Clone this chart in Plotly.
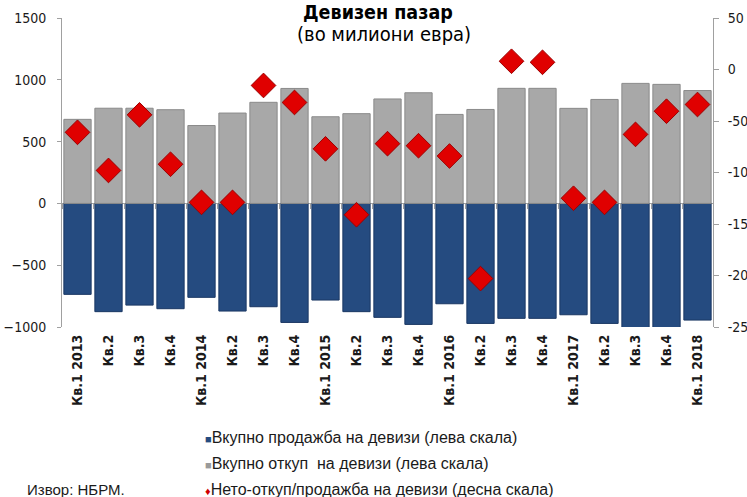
import plotly.graph_objects as go

# Quarters from Q1 2013 to Q1 2018
quarters = [
    "Кв.1 2013", "Кв.2", "Кв.3", "Кв.4",
    "Кв.1 2014", "Кв.2", "Кв.3", "Кв.4",
    "Кв.1 2015", "Кв.2", "Кв.3", "Кв.4",
    "Кв.1 2016", "Кв.2", "Кв.3", "Кв.4",
    "Кв.1 2017", "Кв.2", "Кв.3", "Кв.4",
    "Кв.1 2018",
]

# Total FX purchases (left scale, EUR million)
purchases = [680, 770, 770, 758, 630, 731, 818, 930, 701, 726, 845,
             895, 720, 760, 931, 931, 769, 841, 971, 963, 913]

# Total FX sales (left scale, EUR million)
sales = [-736, -876, -823, -852, -760, -871, -836, -963, -782, -876, -922,
         -979, -812, -971, -930, -930, -901, -971, -1005, -1005, -944]

# Net purchase/sale (right scale, EUR million)
net = [-61, -98, -44, -92, -129, -129, -15.5, -32, -77, -141, -72,
       -74, -84, -203, 8, 7, -125, -129, -63, -40.5, -34]

left_range = [-1000, 1500]
right_range = [-250, 50]
left_ticks = [-1000, -500, 0, 500, 1000, 1500]
right_ticks = [-250, -200, -150, -100, -50, 0, 50]

W, H = 747, 497
ML, MR, MT, MB = 62, 34, 18, 170
plot_w = W - ML - MR
plot_h = H - MT - MB


def px_x(x):
    return (x - ML) / plot_w


def px_y(y):
    return (H - MB - y) / plot_h


positions = list(range(len(quarters)))
x_range = [-0.5, len(quarters) - 0.5]
boundaries = [i - 0.5 for i in range(len(quarters) + 1)]
zero_pos = (0 - left_range[0]) / (left_range[1] - left_range[0])

tick_font = dict(family="DejaVu Sans Condensed, DejaVu Sans, sans-serif", size=14, color="#1a1a1a")
legend_font = dict(family="Liberation Sans Narrow, Liberation Sans, Arial, sans-serif", size=16, color="#1a1a1a")
axis_grey = "#a0a0a0"

fig = go.Figure()

fig.add_trace(go.Bar(
    x=positions, y=sales, name="Вкупно продажба на девизи (лева скала)",
    marker=dict(color="#254b80", line=dict(color="#1a3763", width=1)),
))
fig.add_trace(go.Bar(
    x=positions, y=purchases, name="Вкупно откуп  на девизи (лева скала)",
    marker=dict(color="#a8a8a8", line=dict(color="#8a8a8a", width=1)),
))
fig.add_trace(go.Scatter(
    x=positions, y=net, xaxis="x2", yaxis="y2", mode="markers",
    name="Нето-откуп/продажба на девизи (десна скала)",
    marker=dict(symbol="diamond", size=19, color="#e00000",
                line=dict(color="#9c0000", width=1)),
))

fig.update_layout(
    width=W, height=H,
    margin=dict(l=ML, r=MR, t=MT, b=MB, autoexpand=False),
    paper_bgcolor="white", plot_bgcolor="white",
    barmode="relative", bargap=0.12,
    showlegend=False,
    xaxis=dict(
        range=x_range, tickvals=positions, ticktext=quarters,
        tickangle=-90, showgrid=False, showline=False, zeroline=False,
        ticks="", automargin=False, ticklabelstandoff=4,
        tickfont=dict(family="DejaVu Sans Condensed, DejaVu Sans, sans-serif",
                      size=14, color="#1a1a1a", weight="bold"),
    ),
    # category-boundary tick marks along the zero line
    xaxis2=dict(
        range=x_range, overlaying="x", anchor="free", position=zero_pos,
        side="bottom", tickvals=boundaries, showticklabels=False,
        ticks="outside", ticklen=5, tickcolor=axis_grey,
        showgrid=False, showline=False, zeroline=False,
    ),
    yaxis=dict(
        range=left_range, tickvals=left_ticks, showgrid=False,
        zeroline=True, zerolinecolor=axis_grey, zerolinewidth=1,
        showline=True, linecolor=axis_grey, linewidth=1,
        ticks="outside", ticklen=4, tickcolor=axis_grey,
        ticklabelstandoff=8, tickfont=tick_font, automargin=False,
    ),
    yaxis2=dict(
        range=right_range, tickvals=right_ticks,
        ticktext=[str(v) for v in right_ticks],
        overlaying="y", side="right", anchor="x",
        showgrid=False, zeroline=False,
        showline=True, linecolor=axis_grey, linewidth=1,
        ticks="outside", ticklen=5, tickcolor=axis_grey,
        ticklabelstandoff=6, tickfont=tick_font, automargin=False,
    ),
)

# Title and subtitle
fig.add_annotation(x=px_x(378), y=px_y(12), xref="paper", yref="paper",
                   text="<b>Девизен пазар</b>", showarrow=False,
                   font=dict(family="DejaVu Sans Condensed, DejaVu Sans, sans-serif", size=19.5, color="#000000"),
                   xanchor="center", yanchor="middle")
fig.add_annotation(x=px_x(384), y=px_y(34), xref="paper", yref="paper",
                   text="(во милиони евра)", showarrow=False,
                   font=dict(family="DejaVu Sans Condensed, DejaVu Sans, sans-serif", size=20, color="#000000"),
                   xanchor="center", yanchor="middle")

# Legend entries drawn as text lines
legend_rows = [
    ("#254b80", "■", "Вкупно продажба на девизи (лева скала)", 437),
    ("#9a9a9a", "■", "Вкупно откуп  на девизи (лева скала)", 463),
    ("#d00000", "♦", "Нето-откуп/продажба на девизи (десна скала)", 489),
]
for color, glyph, label, ypx in legend_rows:
    fig.add_annotation(
        x=px_x(203), y=px_y(ypx), xref="paper", yref="paper",
        text=f'<span style="color:{color};font-size:11px">{glyph}</span>{label}',
        showarrow=False, xanchor="left", yanchor="middle", font=legend_font,
    )

fig.add_annotation(x=px_x(25), y=px_y(489), xref="paper", yref="paper",
                   text="Извор: НБРМ.", showarrow=False, xanchor="left", yanchor="middle",
                   font=dict(family="Liberation Sans Narrow, Liberation Sans, Arial, sans-serif",
                             size=15, color="#1a1a1a"))

fig.write_html("out.html")
